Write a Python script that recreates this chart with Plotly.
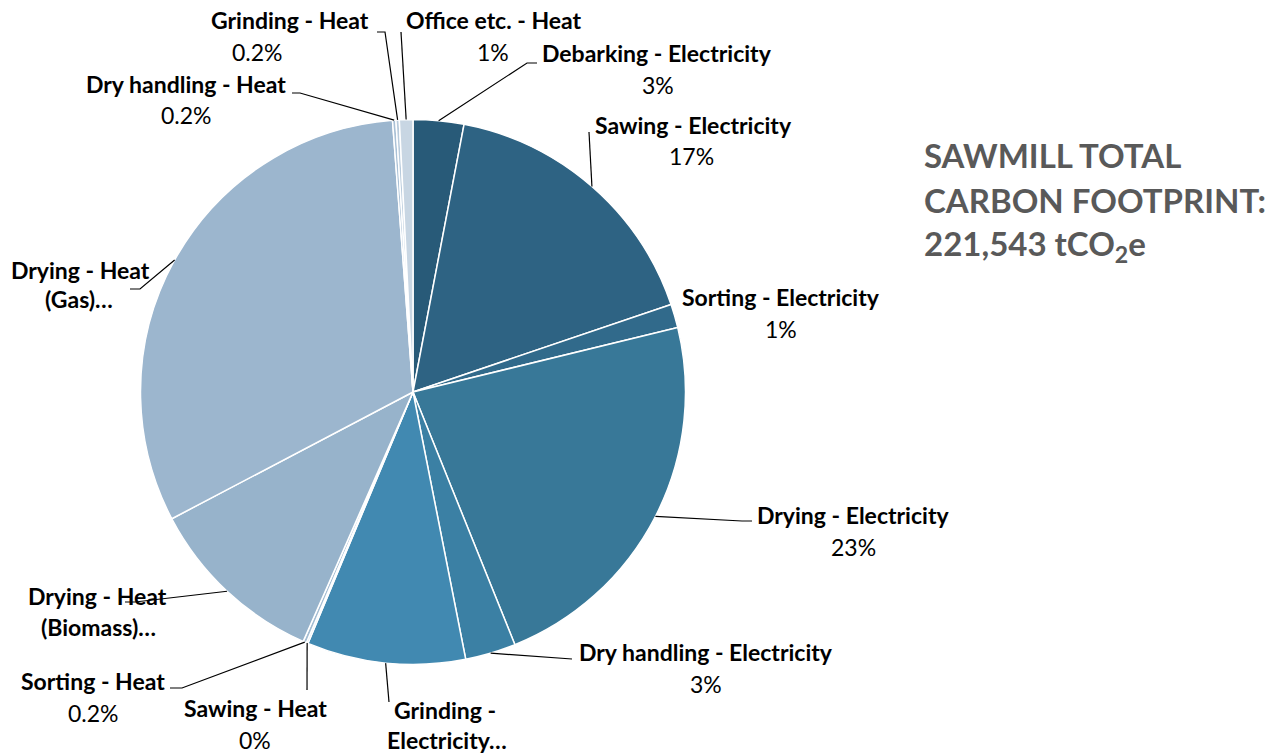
import math
import plotly.graph_objects as go

# Sawmill emissions by process and energy source (share of total, %)
labels = [
    "Debarking - Electricity", "Sawing - Electricity", "Sorting - Electricity",
    "Drying - Electricity", "Dry handling - Electricity", "Grinding - Electricity",
    "Sawing - Heat", "Sorting - Heat", "Drying - Heat (Biomass)",
    "Drying - Heat (Gas)", "Dry handling - Heat", "Grinding - Heat", "Office etc. - Heat",
]
values = [3.0, 16.8, 1.4, 22.7, 3.0, 9.4, 0.1, 0.2, 10.7, 31.5, 0.2, 0.2, 0.8]
pct_decimals = [0, 0, 0, 0, 0, None, 0, 1, None, None, 1, 1, 0]
colors = [
    "#285a78", "#2e6383", "#316a8b", "#387898", "#3b80a4", "#4189b1",
    "#a9c1d6", "#a3bcd2", "#97b3cb", "#9cb6ce", "#aac1d6", "#b8cbdc", "#c8d6e3",
]

W, H = 1281, 755
CX, CY, R = 413, 392, 272.5


def px(x):
    return x / W


def py(y):
    return 1 - y / H


fig = go.Figure(go.Pie(
    labels=labels, values=values, sort=False, direction="clockwise", rotation=0,
    marker=dict(colors=colors, line=dict(color="white", width=1.5)),
    textinfo="none", hoverinfo="label+percent", showlegend=False,
    domain=dict(x=[px(CX - R), px(CX + R)], y=[py(CY + R), py(CY - R)]),
))

# Label layout: (name lines with centre positions, percent line centre, leader path)
label_layout = {
    "Debarking - Electricity": (["Debarking - Electricity"], [(657, 53)], (658, 85), [(527, 63), (537, 63)]),
    "Sawing - Electricity": (["Sawing - Electricity"], [(693, 125)], (691, 156), [(589, 132)]),
    "Sorting - Electricity": (["Sorting - Electricity"], [(781, 297)], (781, 329), None),
    "Drying - Electricity": (["Drying - Electricity"], [(853, 515)], (853, 547), [(742, 521), (752, 521)]),
    "Dry handling - Electricity": (["Dry handling - Electricity"], [(706, 652)], (706, 684), [(572, 659)]),
    "Grinding - Electricity": (["Grinding -", "Electricity…"], [(445, 710), (447, 740)], None, [(389, 702)]),
    "Sawing - Heat": (["Sawing - Heat"], [(255, 708)], (255, 740), [(307, 690)]),
    "Sorting - Heat": (["Sorting - Heat"], [(93, 681)], (93, 713), [(182, 688), (170, 688)]),
    "Drying - Heat (Biomass)": (["Drying - Heat", "(Biomass)…"], [(97, 596), (98, 627)], None, [(135, 602), (125, 602)]),
    "Drying - Heat (Gas)": (["Drying - Heat", "(Gas)…"], [(80, 270), (79, 299)], None, [(140, 289), (130, 289)]),
    "Dry handling - Heat": (["Dry handling - Heat"], [(186, 84)], (186, 115), [(300, 93), (292, 93)]),
    "Grinding - Heat": (["Grinding - Heat"], [(290, 20)], (257, 52), [(385, 32), (377, 32)]),
    "Office etc. - Heat": (["Office etc. - Heat"], [(494, 20)], (493, 52), [(401, 32)]),
}

FONT = "Lato"
LABEL_SIZE = 23
annotations = []
shapes = []
total = sum(values)
cum = 0.0
for lab, val, dec in zip(labels, values, pct_decimals):
    share = val / total * 100
    mid = (cum + share / 2) / 100 * 2 * math.pi
    cum += share
    ex, ey = CX + R * math.sin(mid), CY - R * math.cos(mid)
    names, name_pos, pct_pos, path = label_layout[lab]
    for text, (x, y) in zip(names, name_pos):
        annotations.append(dict(
            x=px(x), y=py(y), xref="paper", yref="paper", text=f"<b>{text}</b>",
            showarrow=False, xanchor="center", yanchor="middle",
            font=dict(family=FONT, size=LABEL_SIZE, color="#000000"),
        ))
    if pct_pos is not None and dec is not None:
        annotations.append(dict(
            x=px(pct_pos[0]), y=py(pct_pos[1]), xref="paper", yref="paper",
            text=f"{share:.{dec}f}%", showarrow=False, xanchor="center", yanchor="middle",
            font=dict(family=FONT, size=LABEL_SIZE, color="#000000"),
        ))
    if path:
        pts = [(ex, ey)] + path
        d = "M " + " L ".join(f"{px(x):.5f},{py(y):.5f}" for x, y in pts)
        shapes.append(dict(type="path", path=d, xref="paper", yref="paper",
                           line=dict(color="#000000", width=1.2)))

# Headline total
title_lines = ["SAWMILL TOTAL", "CARBON FOOTPRINT:", "221,543 tCO<sub>2</sub>e"]
for i, t in enumerate(title_lines):
    annotations.append(dict(
        x=px(922), y=py(155 + 45 * i), xref="paper", yref="paper", text=f"<b>{t}</b>",
        showarrow=False, xanchor="left", yanchor="middle",
        font=dict(family=FONT, size=33, color="#595959"),
    ))

fig.update_layout(
    width=W, height=H, margin=dict(l=0, r=0, t=0, b=0),
    paper_bgcolor="white", plot_bgcolor="white",
    annotations=annotations, shapes=shapes,
)

fig.write_html("out.html")
